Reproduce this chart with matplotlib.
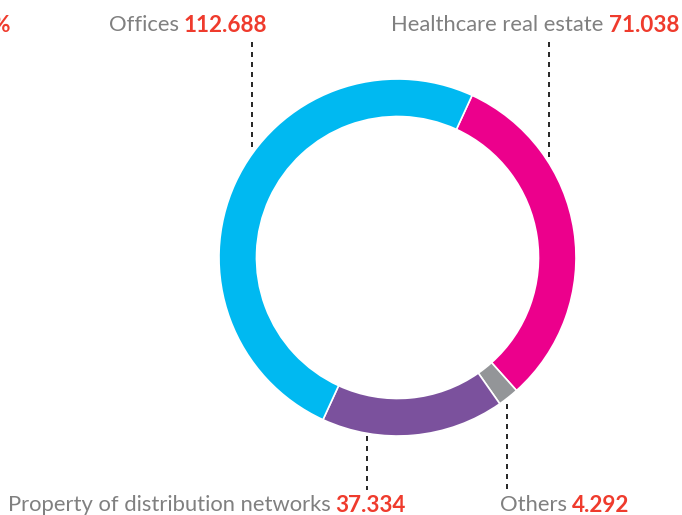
import matplotlib
matplotlib.use("Agg")
import matplotlib.pyplot as plt

categories = ["Healthcare real estate", "Others", "Property of distribution networks", "Offices"]
values = [71.038, 4.292, 37.334, 112.688]
value_labels = ["71.038", "4.292", "37.334", "112.688"]
colors = ["#EC008C", "#939598", "#7B519D", "#00B9F1"]

W, H = 682, 515
fig = plt.figure(figsize=(W / 100, H / 100), dpi=100)
ax = fig.add_axes([0, 0, 1, 1])

cx, cy = 397.5, H - 257.5
R = 178.5
ax.pie(values, colors=colors, startangle=65.3, counterclock=False,
       center=(cx, cy), radius=R, frame=True,
       wedgeprops=dict(width=37.5, edgecolor="white", linewidth=1.2))
ax.set_xlim(0, W)
ax.set_ylim(0, H)
ax.set_aspect("equal")
ax.axis("off")

GRAY = "#808080"
RED = "#EF3B2D"
FS = 16.2
FS_G = 15.8
FONT = "Lato"

label_pos = {
    "Offices": (267, 25),
    "Healthcare real estate": (679, 25),
    "Property of distribution networks": (406, 505),
    "Others": (629, 505),
}
lines = {
    "Offices": (252, 42, 152),
    "Healthcare real estate": (549, 42, 157),
    "Property of distribution networks": (367, 436, 490),
    "Others": (507, 404, 490),
}

fig.canvas.draw()
r = fig.canvas.get_renderer()
for cat, val in zip(categories, value_labels):
    xr, yi = label_pos[cat]
    y = H - yi
    t2 = ax.text(xr, y, val, color=RED, fontsize=FS, fontweight="bold",
                 family=FONT, ha="right", va="center")
    bb = t2.get_window_extent(renderer=r)
    ax.text(xr - bb.width - 5, y, cat, color=GRAY, fontsize=FS_G,
            fontweight="normal", family=FONT, ha="right", va="center")
    lx, y0, y1 = lines[cat]
    ax.plot([lx, lx], [H - y0, H - y1], color="black", lw=1.2,
            linestyle=(0, (3, 3)))

ax.text(10, H - 25, "%", color=RED, fontsize=FS, fontweight="bold",
        family=FONT, ha="right", va="center")

fig.savefig("out.png", dpi=100)
